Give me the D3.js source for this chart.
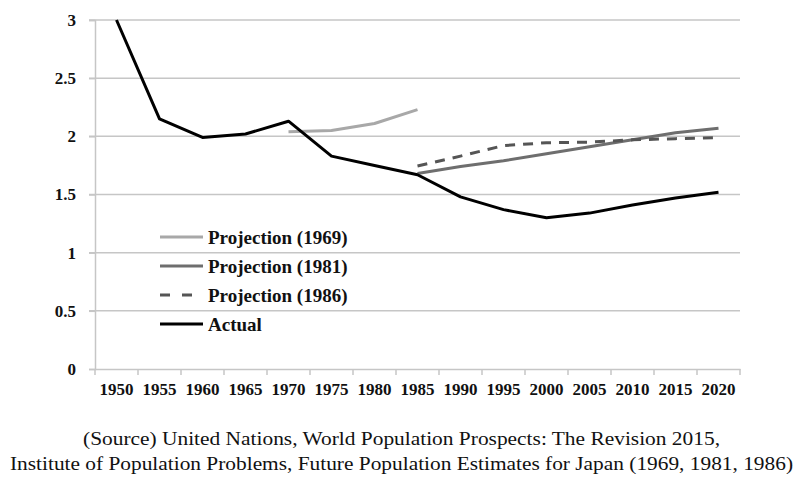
<!DOCTYPE html>
<html>
<head>
<meta charset="utf-8">
<script src="https://cdn.jsdelivr.net/npm/d3@7"></script>
<style>
  html, body { margin: 0; padding: 0; background: #fff; }
  svg { display: block; }
  svg text { font-family: "Liberation Serif", "Times New Roman", Times, "DejaVu Serif", serif; }
</style>
</head>
<body>
<svg id="chart" width="809" height="483"></svg>
<script>
const years = [1950,1955,1960,1965,1970,1975,1980,1985,1990,1995,2000,2005,2010,2015,2020];
const actual   = [3.00,2.15,1.99,2.02,2.13,1.83,1.75,1.67,1.48,1.37,1.30,1.34,1.41,1.47,1.52];
const proj1969 = [null,null,null,null,2.04,2.05,2.11,2.23,null,null,null,null,null,null,null];
const proj1981 = [null,null,null,null,null,null,null,1.68,1.74,1.79,1.85,1.91,1.97,2.03,2.07];
const proj1986 = [null,null,null,null,null,null,null,1.745,1.83,1.92,1.945,1.95,1.97,1.98,1.99];
const yTicks = [0,0.5,1,1.5,2,2.5,3];
const yTickLabels = ["0","0.5","1","1.5","2","2.5","3"];
const seriesNames = ["Projection (1969)","Projection (1981)","Projection (1986)","Actual"];
const sourceLines = [
  "(Source) United Nations, World Population Prospects: The Revision 2015,",
  "Institute of Population Problems, Future Population Estimates for Japan (1969, 1981, 1986)"
];

const svg = d3.select("#chart");
const mLeft = 95, mRight = 740, mTop = 20, mBottom = 369;

const x = d3.scaleBand().domain(years).range([mLeft, mRight]).padding(0);
const y = d3.scaleLinear().domain([0, 3]).range([mBottom, mTop]);

// gridlines
svg.append("g").selectAll("line").data(yTicks.filter(d => d > 0)).join("line")
  .attr("x1", mLeft - 6).attr("x2", mRight)
  .attr("y1", d => y(d)).attr("y2", d => y(d))
  .attr("stroke", "#c6c6c6").attr("stroke-width", 1.5);

// y axis
const yAxis = d3.axisLeft(y).tickValues(yTicks).tickFormat((d, i) => yTickLabels[i]).tickSize(6).tickPadding(13);
const yg = svg.append("g").attr("transform", `translate(${mLeft},0)`).call(yAxis);
yg.attr("font-family", null);
yg.select(".domain").attr("stroke", "#c6c6c6").attr("stroke-width", 1.5);
yg.selectAll(".tick line").attr("stroke", "#c6c6c6").attr("stroke-width", 1.5);
yg.selectAll(".tick text").attr("font-weight", "bold")
  .attr("font-size", 17).attr("fill", "#111");

// x axis
const xg = svg.append("g").attr("transform", `translate(0,${mBottom})`)
  .call(d3.axisBottom(x).tickSize(0).tickPadding(14));
xg.attr("font-family", null);
xg.select(".domain").attr("stroke", "#c6c6c6").attr("stroke-width", 1.5);
xg.selectAll(".tick text").attr("font-weight", "bold")
  .attr("font-size", 17).attr("fill", "#111");
// boundary tick marks
const bounds = years.map(d => x(d)).concat([x(years[years.length-1]) + x.bandwidth()]);
svg.append("g").selectAll("line").data(bounds).join("line")
  .attr("x1", d => d).attr("x2", d => d).attr("y1", mBottom).attr("y2", mBottom + 6)
  .attr("stroke", "#c6c6c6").attr("stroke-width", 1.5);

const cx = d => x(d) + x.bandwidth() / 2;
const line = d3.line().defined(d => d[1] != null).x(d => cx(d[0])).y(d => y(d[1]));
const series = [
  { vals: proj1969, color: "#a8a8a8", width: 3, dash: null },
  { vals: proj1981, color: "#6e6e6e", width: 3, dash: null },
  { vals: proj1986, color: "#555555", width: 3, dash: "10,8" },
  { vals: actual,   color: "#000000", width: 3, dash: null }
];
series.forEach(s => {
  svg.append("path").datum(years.map((yr, i) => [yr, s.vals[i]]))
    .attr("d", line).attr("fill", "none")
    .attr("stroke", s.color).attr("stroke-width", s.width)
    .attr("stroke-dasharray", s.dash).attr("stroke-linejoin", "round");
});

// legend
const lg = svg.append("g");
series.forEach((s, i) => {
  const yy = 237 + i * 29;
  lg.append("line").attr("x1", 160).attr("x2", 203).attr("y1", yy).attr("y2", yy)
    .attr("stroke", s.color).attr("stroke-width", 3).attr("stroke-dasharray", s.dash ? "10,12" : null);
  lg.append("text").attr("x", 208).attr("y", yy).attr("dy", "0.35em")
    .attr("font-weight", "bold").attr("font-size", 19).attr("fill", "#111").text(seriesNames[i]);
});

// source
svg.append("text").attr("x", 83).attr("y", 445).attr("font-size", 19)
  .attr("textLength", 637).attr("lengthAdjust", "spacingAndGlyphs").attr("fill", "#111").text(sourceLines[0]);
svg.append("text").attr("x", 10).attr("y", 470).attr("font-size", 19)
  .attr("textLength", 783).attr("lengthAdjust", "spacingAndGlyphs").attr("fill", "#111").text(sourceLines[1]);
</script>
</body>
</html>
